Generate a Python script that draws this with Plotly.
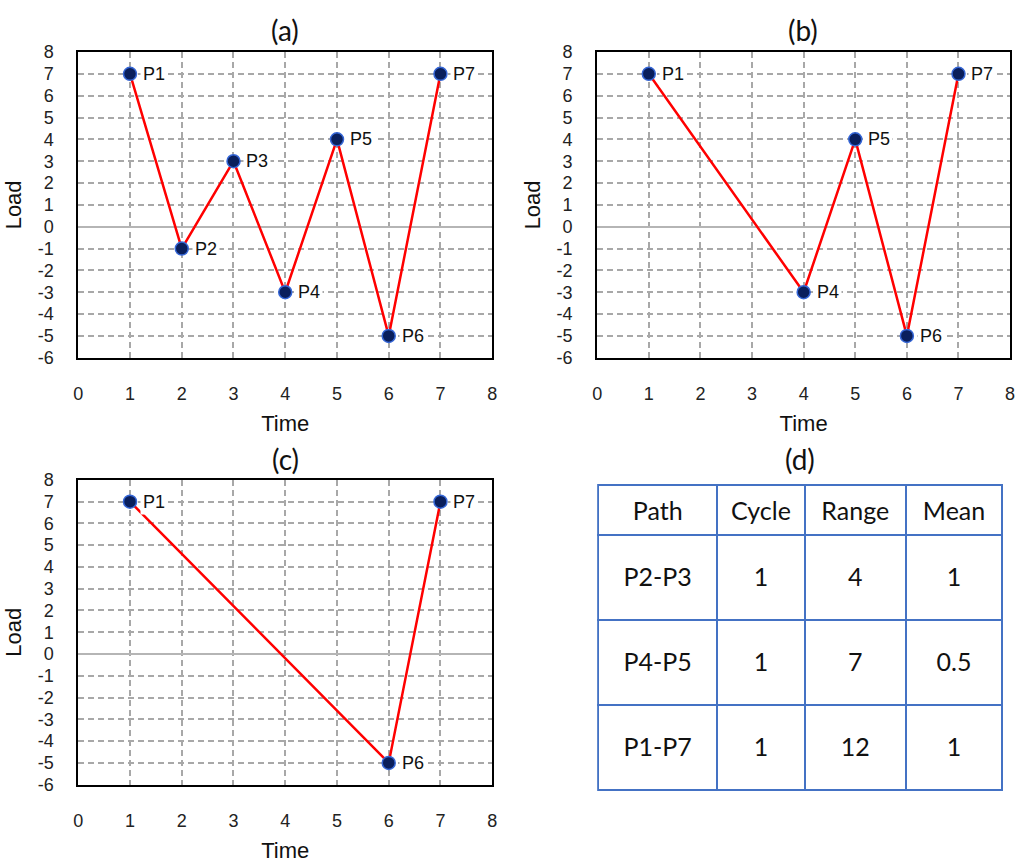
import plotly.graph_objects as go

# ---- data ----
time_a = [1, 2, 3, 4, 5, 6, 7]
load_a = [7, -1, 3, -3, 4, -5, 7]
labels_a = ["P1", "P2", "P3", "P4", "P5", "P6", "P7"]

time_b = [1, 4, 5, 6, 7]
load_b = [7, -3, 4, -5, 7]
labels_b = ["P1", "P4", "P5", "P6", "P7"]

time_c = [1, 6, 7]
load_c = [7, -5, 7]
labels_c = ["P1", "P6", "P7"]

x_ticks = list(range(0, 9))
y_ticks = list(range(-6, 9))

table_header = ["Path", "Cycle", "Range", "Mean"]
paths = ["P2-P3", "P4-P5", "P1-P7"]
cycles = [1, 1, 1]
ranges = [4, 7, 12]
means = [1, 0.5, 1]

panel_titles = ["(a)", "(b)", "(c)", "(d)"]

W, H = 1027, 864


def px_x(p):
    return p / W


def px_y(p):
    return 1 - p / H


fig = go.Figure()

panels = [
    (time_a, load_a, labels_a, "x", "y"),
    (time_b, load_b, labels_b, "x2", "y2"),
    (time_c, load_c, labels_c, "x3", "y3"),
]
for t, l, lab, xa, ya in panels:
    fig.add_trace(go.Scatter(
        x=t, y=l, mode="lines+markers",
        line=dict(color="#ff0000", width=2.5),
        marker=dict(size=13, color="#0a1f5c", line=dict(color="#3566d6", width=1.5)),
        xaxis=xa, yaxis=ya, showlegend=False, cliponaxis=False,
    ))
    for xv, yv, s in zip(t, l, lab):
        fig.add_annotation(
            x=xv, y=yv, xref=xa, yref=ya, text=s, showarrow=False,
            xanchor="left", yanchor="middle", xshift=10, yshift=0,
            bgcolor="white", borderpad=2,
            font=dict(family="Liberation Sans", size=18, color="#111"),
        )


def cell_txt(v):
    return "&nbsp;<br><span style='font-size:25px'>" + str(v) + "</span>"


fig.add_trace(go.Table(
    domain=dict(x=[px_x(599), px_x(1007)], y=[px_y(820), px_y(486)]),
    columnwidth=[120, 88, 102, 97],
    header=dict(values=[cell_txt(h) for h in table_header], height=50,
                line=dict(color="#4472C4", width=2), fill=dict(color="white"),
                align="center", font=dict(family="Lato", size=12, color="#111")),
    cells=dict(values=[[cell_txt(p) for p in paths],
                       [cell_txt(v) for v in cycles],
                       [cell_txt(v) for v in ranges],
                       [cell_txt(v) for v in means]],
               height=85,
               line=dict(color="#4472C4", width=2), fill=dict(color="white"),
               align="center", font=dict(family="Lato", size=19, color="#111")),
))

axis_common = dict(
    showline=True, mirror=True, linecolor="black", linewidth=2,
    showgrid=True, gridcolor="#a8a8a8", griddash="6px,4px", gridwidth=1.5,
    ticks="", tickfont=dict(family="Liberation Sans", size=18, color="#222"),
    ticklabelstandoff=19, tickmode="array",
)
title_font = dict(family="Liberation Sans", size=22, color="#111")

x_domains = [(74, 492), (598, 1015), (74, 492)]
y_domains = [(43, 356), (43, 356), (481, 793)]
for i in range(3):
    sfx = "" if i == 0 else str(i + 1)
    fig.update_layout(**{
        "xaxis" + sfx: dict(axis_common, domain=[px_x(x_domains[i][0]), px_x(x_domains[i][1])],
                            range=[0, 8], zeroline=False, anchor="y" + sfx,
                            tickvals=x_ticks, ticktext=[str(v) for v in x_ticks],
                            title=dict(text="Time", standoff=12, font=title_font)),
        "yaxis" + sfx: dict(axis_common, domain=[px_y(y_domains[i][1]), px_y(y_domains[i][0])],
                            range=[-6, 8], zeroline=True, zerolinecolor="#b5b5b5", zerolinewidth=1.5,
                            anchor="x" + sfx,
                            tickvals=y_ticks, ticktext=[str(v) for v in y_ticks],
                            title=dict(text="Load", standoff=10, font=title_font)),
    })

title_pos = [(283, 20), (806, 20), (283, 460), (803, 460)]
for txt, (tx, ty) in zip(panel_titles, title_pos):
    fig.add_annotation(text=txt, x=px_x(tx), y=px_y(ty), xref="paper", yref="paper",
                       showarrow=False, xanchor="center", yanchor="middle",
                       font=dict(family="Lato", size=28, color="#111"))

fig.update_layout(width=W, height=H, margin=dict(l=0, r=0, t=0, b=0),
                  paper_bgcolor="white", plot_bgcolor="white")

fig.write_html("out.html")
